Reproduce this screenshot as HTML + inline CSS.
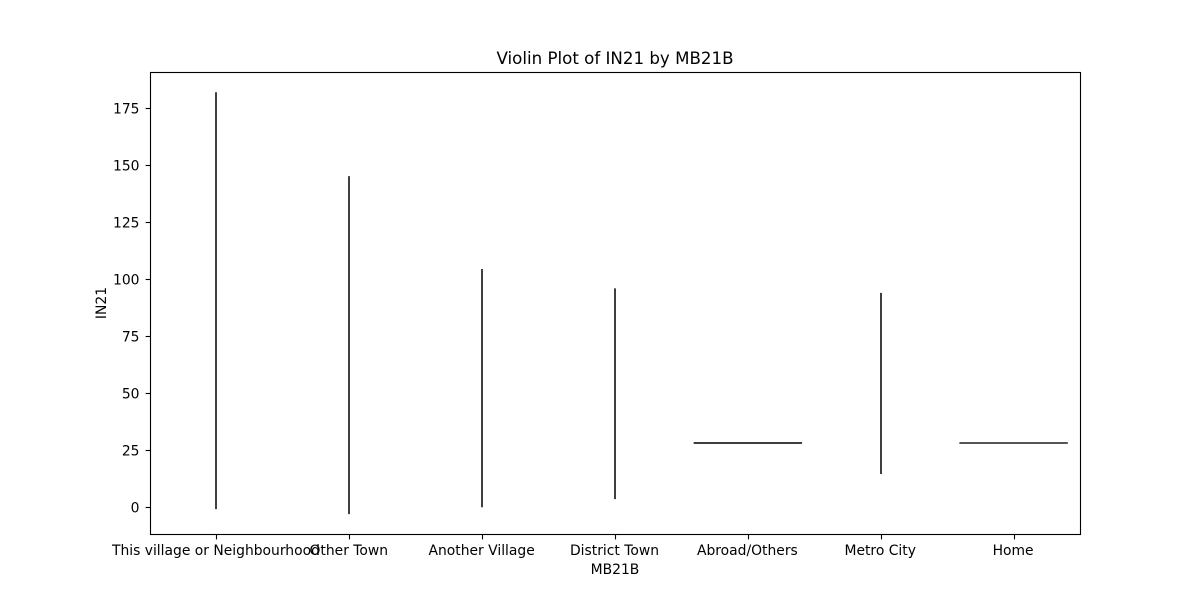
<!DOCTYPE html>
<html lang="en">
<head>
<meta charset="utf-8">
<title>Violin Plot of IN21 by MB21B</title>
<style>
html,body{margin:0;padding:0;background:#fff;}
svg{display:block;}
text{font-family:"DejaVu Sans",sans-serif;fill:#000;}
</style>
</head>
<body>
<svg id="chart" width="1200" height="600" viewBox="0 0 1200 600" xmlns="http://www.w3.org/2000/svg">
  <rect x="0" y="0" width="1200" height="600" fill="#ffffff"/>
  <text x="615" y="64" font-size="16.67" text-anchor="middle">Violin Plot of IN21 by MB21B</text>
  <text x="615" y="574" font-size="13.89" text-anchor="middle">MB21B</text>
  <text x="0" y="0" font-size="13.89" text-anchor="middle" transform="translate(106 303) rotate(-90)">IN21</text>
  <g id="marks"></g>
  <g id="axes"></g>
  <rect x="150.5" y="72.5" width="930" height="462" fill="none" stroke="#000" stroke-width="1.11"/>
</svg>
<script>
const categories = ["This village or Neighbourhood", "Other Town", "Another Village", "District Town", "Abroad/Others", "Metro City", "Home"];
const lowValues = [-0.8, -3, 0, 3.6, 28.2, 14.6, 28.2];
const highValues = [182, 145.2, 104.5, 96, 28.2, 94, 28.2];
const yTicks = [0, 25, 50, 75, 100, 125, 150, 175];

const NS = "http://www.w3.org/2000/svg";
const plotLeft = 150, plotWidth = 930;
const zeroY = 507.3, pxPerUnit = 2.2805;
const flatHalfWidth = 0.408;

function xScale(i) { return plotLeft + (i + 0.5) * plotWidth / categories.length; }
function yScale(v) { return zeroY - v * pxPerUnit; }
function make(tag, attrs, parent) {
  const el = document.createElementNS(NS, tag);
  for (const k in attrs) el.setAttribute(k, attrs[k]);
  parent.appendChild(el);
  return el;
}

const marks = document.getElementById("marks");
const axes = document.getElementById("axes");

categories.forEach(function (name, i) {
  const cx = xScale(i);
  const flat = lowValues[i] === highValues[i];
  const unit = plotWidth / categories.length;
  const line = make("line", {
    x1: flat ? cx - flatHalfWidth * unit : Math.round(cx),
    x2: flat ? cx + flatHalfWidth * unit : Math.round(cx),
    y1: yScale(lowValues[i]),
    y2: yScale(highValues[i]),
    stroke: name === "Home" ? "#555555" : "#3f3f3f",
    "stroke-width": 2
  }, marks);
  
  

  const tx = Math.round(cx) + 0.5;
  const tick = make("line", { x1: tx, x2: tx, y1: 534.5, y2: 539.4, stroke: "#000", "stroke-width": 1.11 }, axes);
  
  

  const label = make("text", { x: cx - 0.5, y: 555, "font-size": 13.89, "text-anchor": "middle" }, axes);
  label.textContent = name;
  
  
});

yTicks.forEach(function (v) {
  const y = Math.round(yScale(v)) + 0.5;
  const tick = make("line", { x1: 145.6, x2: 150.5, y1: y, y2: y, stroke: "#000", "stroke-width": 1.11 }, axes);
  
  

  const label = make("text", { x: 139.5, y: y + 4.8, "font-size": 13.89, "text-anchor": "end" }, axes);
  label.textContent = v;
  
  
});
</script>
</body>
</html>
